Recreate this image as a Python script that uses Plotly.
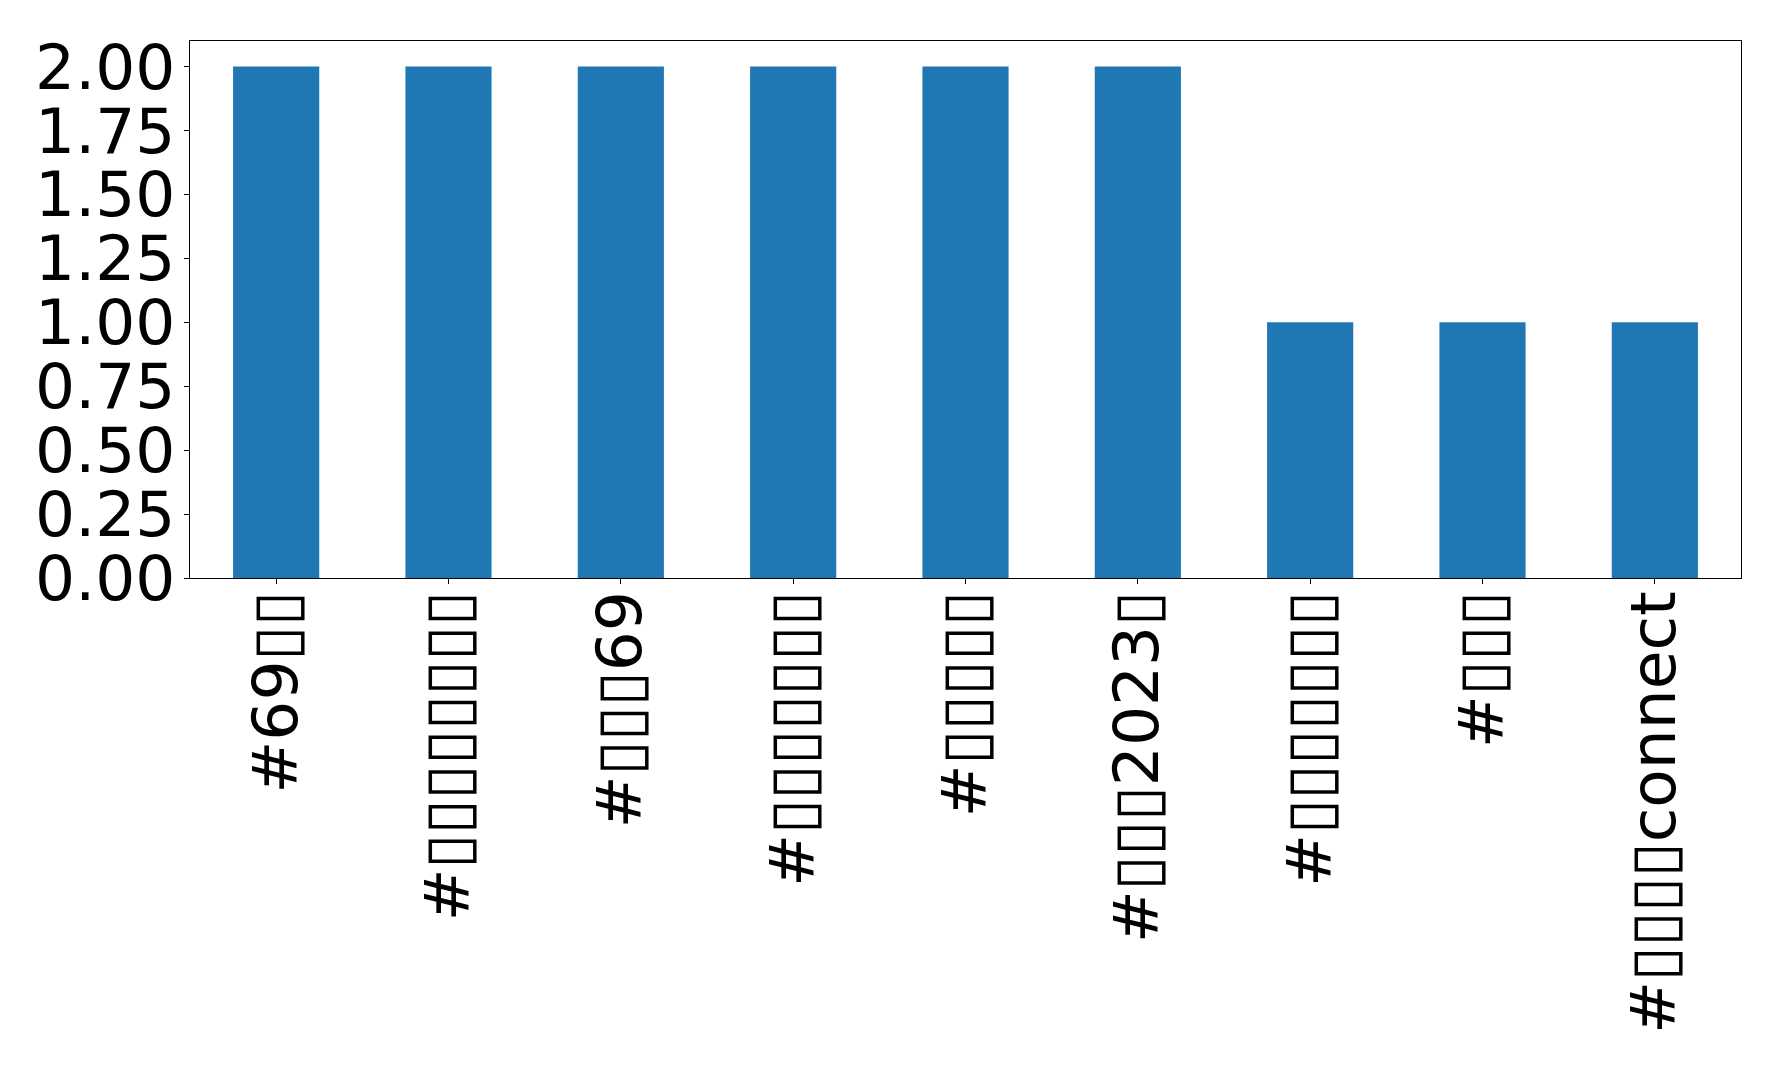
import plotly.graph_objects as go

B = "\u25AF"
categories = [
    "#69" + B * 2,
    "#" + B * 8,
    "#" + B * 3 + "69",
    "#" + B * 7,
    "#" + B * 5,
    "#" + B * 3 + "2023" + B,
    "#" + B * 7,
    "#" + B * 3,
    "#" + B * 4 + "connect",
]
values = [2, 2, 2, 2, 2, 2, 1, 1, 1]
y_ticks = [0, 0.25, 0.5, 0.75, 1.0, 1.25, 1.5, 1.75, 2.0]

fig = go.Figure(go.Bar(x=list(range(len(categories))), y=values,
                       marker=dict(color="#1f77b4", line=dict(width=0)),
                       width=0.5))

fig.update_layout(
    width=1770, height=1072,
    margin=dict(l=182, r=37, t=33, b=502),
    plot_bgcolor="white", paper_bgcolor="white",
    font=dict(family="DejaVu Sans", size=63, color="black"),
    showlegend=False,
)
fig.update_xaxes(
    range=[-0.5, 8.5],
    tickmode="array", tickvals=list(range(len(categories))), ticktext=categories,
    tickangle=-90, ticks="outside", ticklen=5, tickwidth=1, tickcolor="black",
    ticklabelstandoff=-18,
    showline=True, linecolor="black", linewidth=1, mirror=True,
    showgrid=False, zeroline=False,
)
fig.update_yaxes(
    range=[0, 2.1],
    tickmode="array", tickvals=y_ticks, ticktext=[f"{v:.2f}" for v in y_ticks],
    ticks="outside", ticklen=5, tickwidth=1, tickcolor="black",
    ticklabelstandoff=-4,
    showline=True, linecolor="black", linewidth=1, mirror=True,
    showgrid=False, zeroline=False,
)
fig.write_html("out.html")
